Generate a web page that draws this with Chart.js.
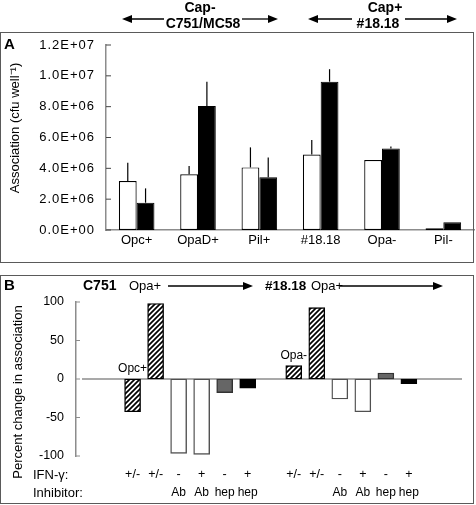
<!DOCTYPE html>
<html>
<head>
<meta charset="utf-8">
<script src="https://cdn.jsdelivr.net/npm/chart.js@4.4.0/dist/chart.umd.min.js"></script>
<style>
  html, body { margin: 0; padding: 0; background: #fff; }
  #wrap { position: relative; width: 476px; height: 505px; }
  canvas { position: absolute; left: 0; }
  #chartA { top: 0; }
  #chartB { top: 264px; }
</style>
</head>
<body>
<div id="wrap">
  <canvas id="chartA" width="476" height="264"></canvas>
  <canvas id="chartB" width="476" height="241"></canvas>
</div>
<script>
// Panel A: association per strain (open = first condition, solid = second)
const strainsA = ['Opc+', 'OpaD+', 'Pil+', '#18.18', 'Opa-', 'Pil-'];
const openA = [3.18e6, 3.61e6, 4.06e6, 4.89e6, 4.54e6, 0.11e6];
const solidA = [1.77e6, 8.04e6, 3.42e6, 9.62e6, 5.28e6, 0.50e6];
const openErrA = [1.19e6, 0.54e6, 1.30e6, 0.95e6, 0, 0];
const solidErrA = [0.93e6, 1.58e6, 1.29e6, 0.81e6, 0.13e6, 0];
const tickLabelsA = ['0.0E+00', '2.0E+06', '4.0E+06', '6.0E+06', '8.0E+06', '1.0E+07', '1.2E+07'];
const yTitleA = 'Association (cfu well\u207B\u00B9)';

// Panel B: percent change, slot 7 is the gap between the two strains
const slotsB = [1, 2, 3, 4, 5, 6, 8, 9, 10, 11, 12, 13];
const changeB = [-42.5, 98, -96.5, -97.8, -17.7, -12, 17.3, 92.6, -26, -42.5, 7.8, -6];
const ifnB = ['+/-', '+/-', '-', '+', '-', '+', '+/-', '+/-', '-', '+', '-', '+'];
const inhibitorB = ['', '', 'Ab', 'Ab', 'hep', 'hep', '', '', 'Ab', 'Ab', 'hep', 'hep'];
const noteB = ['Opc+', '', '', '', '', '', 'Opa-', '', '', '', '', ''];
const tickLabelsB = ['-100', '-50', '0', '50', '100'];
const yTitleB = 'Percent change in association';

const FONT = '"Liberation Sans", Arial, Helvetica, sans-serif';
const GREY = '#8c8c8c';
const FRAME = '#5a5a5a';

Chart.defaults.font.family = FONT;
Chart.defaults.color = '#000';

// helpers
function drawText(ctx, str, x, y, font, align = 'left', spacing = '0px') {
    ctx.save();
    ctx.font = font;
    ctx.fillStyle = '#000';
    ctx.textAlign = align;
    ctx.textBaseline = 'middle';
    ctx.letterSpacing = spacing;
    ctx.fillText(str, x, y);
    ctx.restore();
}

function drawArrow(ctx, from, to, y) {
    const d = to > from ? 1 : -1;
    ctx.save();
    ctx.strokeStyle = '#000';
    ctx.fillStyle = '#000';
    ctx.lineWidth = 1.3;
    ctx.beginPath();
    ctx.moveTo(from, y);
    ctx.lineTo(to - d * 6, y);
    ctx.stroke();
    ctx.beginPath();
    ctx.moveTo(to, y);
    ctx.lineTo(to - d * 10, y - 4);
    ctx.lineTo(to - d * 10, y + 4);
    ctx.closePath();
    ctx.fill();
    ctx.restore();
}

function drawLine(ctx, x1, y1, x2, y2, color, width) {
    ctx.save();
    ctx.strokeStyle = color;
    ctx.lineWidth = width;
    ctx.beginPath();
    ctx.moveTo(x1, y1);
    ctx.lineTo(x2, y2);
    ctx.stroke();
    ctx.restore();
}

function makeHatch(ctx) {
    const c = document.createElement('canvas');
    c.width = c.height = 5;
    const g = c.getContext('2d');
    g.fillStyle = '#fff';
    g.fillRect(0, 0, 5, 5);
    g.strokeStyle = '#000';
    g.lineWidth = 1.7;
    g.beginPath();
    g.moveTo(-1, 6); g.lineTo(6, -1);
    g.moveTo(-1, 1); g.lineTo(1, -1);
    g.moveTo(4, 6); g.lineTo(6, 4);
    g.stroke();
    return ctx.createPattern(c, 'repeat');
}

// ---------- Panel A ----------
const panelA = {
    id: 'panelA',
    afterDraw(chart) {
        const { ctx, chartArea, scales: { y } } = chart;
        ctx.save();
        ctx.strokeStyle = FRAME;
        ctx.lineWidth = 1;
        ctx.strokeRect(0.5, 32.5, 473, 230);
        ctx.restore();

        drawText(ctx, 'Cap-', 200, 8, 'bold 14px ' + FONT, 'center');
        drawText(ctx, 'C751/MC58', 203, 24, 'bold 14px ' + FONT, 'center');
        drawText(ctx, 'Cap+', 385, 8, 'bold 14px ' + FONT, 'center');
        drawText(ctx, '#18.18', 378, 24, 'bold 14px ' + FONT, 'center');
        drawArrow(ctx, 164, 122, 19);
        drawArrow(ctx, 242, 278, 19);
        drawArrow(ctx, 352, 308, 19);
        drawArrow(ctx, 405, 457, 19);

        drawText(ctx, 'A', 4, 45, 'bold 15px ' + FONT);

        ctx.save();
        ctx.translate(15, 128);
        ctx.rotate(-Math.PI / 2);
        drawText(ctx, yTitleA, 0, 0, '13px ' + FONT, 'center');
        ctx.restore();

        y.ticks.forEach((t, i) => {
            const py = y.getPixelForValue(t.value);
            drawLine(ctx, chartArea.left, py, chartArea.left + 5, py, '#444', 1);
            drawText(ctx, tickLabelsA[i], chartArea.left - 11, py, '13px ' + FONT, 'right', '1px');
        });

        // error bars, upper side only
        [openErrA, solidErrA].forEach((errs, di) => {
            const vals = chart.data.datasets[di].data;
            chart.getDatasetMeta(di).data.forEach((bar, i) => {
                if (!errs[i]) return;
                const top = y.getPixelForValue(vals[i] + errs[i]);
                drawLine(ctx, bar.x, bar.y, bar.x, top, '#000', 1.2);
            });
        });
    }
};

new Chart(document.getElementById('chartA'), {
    type: 'bar',
    data: {
        labels: strainsA,
        datasets: [
            { data: openA, backgroundColor: '#fff', borderColor: '#000', borderWidth: 1.2, borderSkipped: false },
            { data: solidA, backgroundColor: '#000', borderColor: '#000', borderWidth: 1, borderSkipped: false }
        ]
    },
    options: {
        responsive: false,
        animation: false,
        layout: { padding: { top: 45, right: 2, left: 0, bottom: 0 } },
        datasets: { bar: { categoryPercentage: 0.58, barPercentage: 1 } },
        plugins: { legend: { display: false }, tooltip: { enabled: false } },
        scales: {
            x: {
                grid: { display: false, drawTicks: false },
                border: { color: GREY, width: 1.5 },
                ticks: { font: { size: 13 }, padding: 3, maxRotation: 0, autoSkip: false },
                afterFit(s) { s.height = 34; }
            },
            y: {
                min: 0,
                max: 1.2e7,
                grid: { display: false, drawTicks: false },
                border: { color: GREY, width: 1.5 },
                ticks: { stepSize: 2e6, display: false },
                afterFit(s) { s.width = 106; }
            }
        }
    },
    plugins: [panelA]
});

// ---------- Panel B ----------
const canvasB = document.getElementById('chartB');
const hatch = makeHatch(canvasB.getContext('2d'));

const fillB = inhibitorB.map((inh, i) =>
    inh === '' ? hatch : inh === 'Ab' ? '#fff' : ifnB[i] === '-' ? '#666' : '#000');
const edgeB = inhibitorB.map((inh, i) =>
    inh === '' ? '#000' : inh === 'Ab' ? '#505050' : ifnB[i] === '-' ? '#333' : '#000');

const panelB = {
    id: 'panelB',
    beforeDatasetsDraw(chart) {
        const { ctx, chartArea, scales: { y } } = chart;
        const py = y.getPixelForValue(0);
        drawLine(ctx, chartArea.left + 6, py, chartArea.right, py, GREY, 1.3);
    },
    afterDraw(chart) {
        const { ctx, chartArea, scales: { x, y } } = chart;
        ctx.save();
        ctx.strokeStyle = FRAME;
        ctx.lineWidth = 1;
        ctx.strokeRect(0.5, 11.5, 473, 228);
        ctx.restore();

        drawText(ctx, 'B', 4, 22, 'bold 15px ' + FONT);
        drawText(ctx, 'C751', 83, 22, 'bold 14px ' + FONT);
        drawText(ctx, 'Opa+', 129, 22, '13px ' + FONT);
        drawArrow(ctx, 168, 253, 22);
        drawText(ctx, '#18.18', 265, 22, 'bold 13.5px ' + FONT);
        drawText(ctx, 'Opa+', 311, 22, '13px ' + FONT);
        drawArrow(ctx, 340, 443, 22);

        ctx.save();
        ctx.translate(18, 128);
        ctx.rotate(-Math.PI / 2);
        drawText(ctx, yTitleB, 0, 0, '13px ' + FONT, 'center');
        ctx.restore();

        y.ticks.forEach(t => {
            const py = y.getPixelForValue(t.value);
            drawLine(ctx, chartArea.left, py, chartArea.left + 4, py, GREY, 1);
        });

        drawText(ctx, 'IFN-\u03B3:', 33, 211, '13px ' + FONT);
        drawText(ctx, 'Inhibitor:', 33, 229, '13px ' + FONT);
        slotsB.forEach((s, i) => {
            const px = x.getPixelForValue(s);
            drawText(ctx, ifnB[i], px, 211, '12.5px ' + FONT, 'center');
            if (inhibitorB[i]) drawText(ctx, inhibitorB[i], px, 229, '12px ' + FONT, 'center');
        });

        const bars = chart.getDatasetMeta(0).data;
        noteB.forEach((n, i) => {
            if (!n) return;
            const top = Math.min(bars[i].y, y.getPixelForValue(0));
            drawText(ctx, n, bars[i].x, top - 10, '12px ' + FONT, 'center');
        });
    }
};

new Chart(canvasB, {
    type: 'bar',
    data: {
        datasets: [{
            data: slotsB.map((s, i) => ({ x: s, y: changeB[i] })),
            backgroundColor: fillB,
            borderColor: edgeB,
            borderWidth: 1.4,
            borderSkipped: false,
            barThickness: 16
        }]
    },
    options: {
        responsive: false,
        animation: false,
        layout: { padding: { top: 38, right: 14, left: 0, bottom: 49 } },
        plugins: { legend: { display: false }, tooltip: { enabled: false } },
        scales: {
            x: { type: 'linear', min: -0.41, max: 14.26, display: false },
            y: {
                min: -100,
                max: 100,
                grid: { display: false, drawTicks: false },
                border: { color: GREY, width: 1.5 },
                ticks: {
                    stepSize: 50,
                    font: { size: 12.5 },
                    padding: 12,
                    callback: (v, i) => tickLabelsB[i]
                },
                afterFit(s) { s.width = 76; }
            }
        }
    },
    plugins: [panelB]
});
</script>
</body>
</html>
